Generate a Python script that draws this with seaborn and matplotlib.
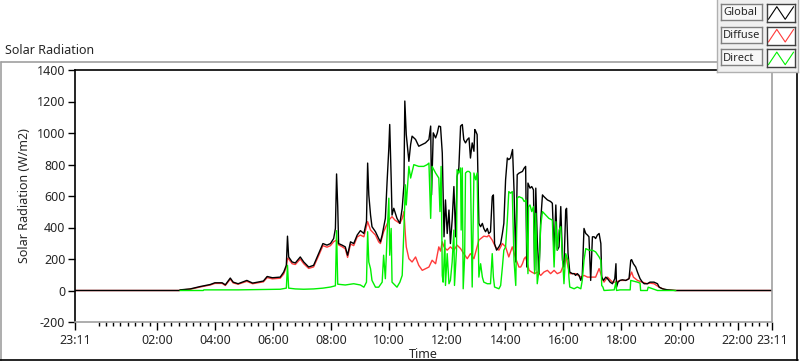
import numpy as np
import pandas as pd
import matplotlib
matplotlib.use("Agg")
import matplotlib.pyplot as plt
import seaborn as sns
from matplotlib.lines import Line2D

# time in decimal hours of day, chart runs 23:11 -> 23:11
T0, T1 = -49 / 60, 23 + 11 / 60

global_t = [T0, 2.78, 2.80, 3.15, 3.49, 3.84, 4.00, 4.25, 4.36, 4.53, 4.63, 4.80, 5.10, 5.30, 5.67, 5.80,
            5.98, 6.25, 6.37, 6.46, 6.50, 6.54, 6.66, 6.77, 6.94, 7.06, 7.23, 7.40, 7.57, 7.72, 7.86, 7.98,
            8.09, 8.15, 8.19, 8.23, 8.26, 8.38, 8.49, 8.57, 8.67, 8.78, 8.90, 9.01, 9.13, 9.22, 9.26, 9.30,
            9.36, 9.41, 9.53, 9.64, 9.70, 9.76, 9.87, 9.93, 9.99, 10.02, 10.07, 10.10, 10.16, 10.27, 10.37,
            10.45, 10.51, 10.54, 10.59, 10.68, 10.74, 10.79, 10.91, 11.02, 11.14, 11.25, 11.37, 11.43, 11.46,
            11.52, 11.60, 11.66, 11.71, 11.77, 11.83, 11.89, 11.94, 12.00, 12.06, 12.11, 12.17, 12.23, 12.29,
            12.34, 12.40, 12.46, 12.52, 12.57, 12.63, 12.69, 12.75, 12.80, 12.86, 12.92, 12.95, 12.98, 13.03,
            13.09, 13.15, 13.21, 13.26, 13.32, 13.38, 13.43, 13.49, 13.55, 13.59, 13.63, 13.70, 13.78, 13.84,
            13.90, 13.95, 14.01, 14.07, 14.12, 14.18, 14.25, 14.30, 14.36, 14.41, 14.47, 14.59, 14.65, 14.70,
            14.74, 14.78, 14.85, 14.91, 14.97, 15.01, 15.05, 15.10, 15.16, 15.22, 15.28, 15.33, 15.45, 15.56,
            15.62, 15.68, 15.74, 15.79, 15.85, 15.91, 15.97, 16.02, 16.08, 16.11, 16.16, 16.22, 16.31, 16.37,
            16.42, 16.48, 16.54, 16.60, 16.65, 16.71, 16.77, 16.83, 16.88, 16.94, 17.00, 17.06, 17.11, 17.17,
            17.23, 17.29, 17.32, 17.38, 17.46, 17.52, 17.61, 17.69, 17.77, 17.81, 17.83, 17.88, 17.95, 18.03,
            18.15, 18.26, 18.32, 18.35, 18.41, 18.49, 18.55, 18.64, 18.72, 18.78, 18.89, 18.98, 19.12, 19.24,
            19.30, 19.41, 19.59, 19.87, T1]
global_v = [0, 0, 4, 10, 25, 38, 49, 49, 36, 79, 53, 43, 64, 47, 60, 89,
            81, 85, 117, 160, 345, 213, 181, 175, 213, 181, 149, 160, 234, 298, 288, 298,
            330, 394, 740, 532, 298, 288, 277, 224, 309, 298, 352, 380, 362, 437, 809, 607,
            479, 405, 373, 330, 309, 352, 458, 692, 905, 1054, 714, 479, 522, 458, 426,
            522, 671, 1203, 990, 820, 927, 980, 959, 916, 927, 937, 959, 1044, 607,
            1001, 969, 1001, 1044, 1040, 873, 341, 575, 362, 511, 298, 447, 660, 341,
            724, 777, 1044, 1054, 958, 937, 958, 969, 841, 937, 884, 1022, 1012, 990,
            426, 405, 426, 394, 373, 394, 362, 373, 596, 607, 298, 256, 277, 298,
            362, 426, 703, 841, 831, 841, 895, 639, 181, 735, 745, 756, 777, 788,
            149, 682, 650, 660, 639, 128, 650, 320, 107, 447, 607, 596, 575, 565,
            554, 234, 543, 256, 277, 533, 192, 149, 511, 522, 234, 117, 107, 107,
            96, 107, 96, 64, 96, 394, 362, 352, 341, 64, 341, 341, 330, 352,
            362, 298, 85, 64, 85, 75, 53, 43, 75, 170, 21, 53, 64, 68,
            64, 75, 192, 196, 170, 149, 117, 75, 53, 43, 43, 53, 53, 43,
            21, 11, 4, 0, 0]

diffuse_t = [T0, 2.78, 2.80, 3.15, 3.49, 3.84, 4.00, 4.25, 4.36, 4.53, 4.63, 4.80, 5.10, 5.30, 5.67, 5.80,
             5.98, 6.25, 6.37, 6.46, 6.50, 6.54, 6.66, 6.77, 6.94, 7.06, 7.23, 7.40, 7.57, 7.72, 7.86, 7.98,
             8.09, 8.19, 8.26, 8.38, 8.49, 8.57, 8.67, 8.78, 8.90, 9.01, 9.13, 9.26, 9.36, 9.53, 9.64, 9.70,
             9.81, 9.99, 10.10, 10.20, 10.37, 10.45, 10.51, 10.56, 10.59, 10.68, 10.79, 10.91, 11.02, 11.14,
             11.25, 11.37, 11.48, 11.60, 11.71, 11.77, 11.83, 11.89, 11.94, 12.00, 12.11, 12.23, 12.34, 12.46,
             12.57, 12.69, 12.80, 12.92, 13.03, 13.09, 13.26, 13.38, 13.43, 13.55, 13.66, 13.78, 13.90, 14.01,
             14.12, 14.24, 14.36, 14.47, 14.53, 14.59, 14.65, 14.70, 14.76, 14.82, 14.91, 15.01, 15.10, 15.22,
             15.33, 15.45, 15.56, 15.68, 15.79, 15.91, 16.02, 16.08, 16.16, 16.22, 16.42, 16.60, 16.71, 16.83,
             16.94, 17.11, 17.23, 17.29, 17.34, 17.40, 17.52, 17.69, 17.81, 17.95, 18.15, 18.26, 18.35, 18.41,
             18.55, 18.72, 18.89, 18.98, 19.12, 19.30, 19.48, 19.87, T1]
diffuse_v = [0, 0, 3, 8, 22, 35, 45, 45, 32, 72, 48, 40, 58, 43, 55, 82,
             74, 78, 105, 150, 205, 200, 170, 165, 200, 170, 140, 150, 220, 285, 275, 285,
             310, 320, 290, 278, 265, 210, 295, 285, 340, 352, 341, 437, 384, 352, 309, 298,
             373, 447, 469, 447, 426, 458, 501, 352, 277, 202, 181, 213, 160, 128,
             138, 149, 192, 170, 277, 250, 309, 277, 266, 256, 277, 256, 288, 266,
             234, 202, 234, 202, 277, 320, 345, 341, 352, 320, 277, 256, 298, 277,
             213, 277, 202, 149, 149, 170, 202, 213, 170, 128, 117, 107, 117, 96,
             117, 128, 107, 128, 107, 117, 170, 224, 149, 107, 107, 85, 96, 85,
             85, 85, 139, 107, 75, 53, 85, 53, 53, 64, 64, 75, 117, 85,
             64, 53, 43, 47, 43, 21, 6, 0, 0]

direct_t = [2.80, 3.60, 3.62, 4.80, 5.50, 6.25, 6.46, 6.50, 6.54, 6.77, 7.06, 7.40, 7.72, 7.98, 8.15, 8.19,
            8.23, 8.49, 8.78, 9.01, 9.13, 9.22, 9.26, 9.30, 9.36, 9.41, 9.53, 9.64, 9.76, 9.81, 9.87, 9.93,
            9.99, 10.02, 10.07, 10.10, 10.27, 10.37, 10.45, 10.51, 10.56, 10.59, 10.68, 10.74, 10.85, 11.02,
            11.19, 11.31, 11.37, 11.43, 11.48, 11.60, 11.71, 11.75, 11.79, 11.83, 11.86, 11.92, 11.94, 12.00,
            12.06, 12.11, 12.17, 12.23, 12.25, 12.32, 12.34, 12.40, 12.46, 12.48, 12.52, 12.55, 12.60, 12.63,
            12.69, 12.75, 12.80, 12.86, 12.92, 12.98, 13.03, 13.09, 13.15, 13.21, 13.26, 13.38, 13.49, 13.55,
            13.59, 13.63, 13.78, 13.84, 13.90, 13.95, 14.01, 14.07, 14.12, 14.18, 14.24, 14.30, 14.36, 14.41,
            14.47, 14.59, 14.65, 14.72, 14.74, 14.78, 14.80, 14.85, 14.91, 14.97, 15.01, 15.05, 15.10, 15.16,
            15.22, 15.28, 15.39, 15.50, 15.62, 15.68, 15.74, 15.79, 15.85, 15.91, 15.97, 16.02, 16.08, 16.16,
            16.19, 16.22, 16.37, 16.48, 16.60, 16.65, 16.71, 16.77, 16.88, 17.00, 17.11, 17.23, 17.29, 17.32,
            17.36, 17.40, 17.75, 17.81, 17.83, 17.95, 18.30, 18.32, 18.55, 18.64, 18.66, 18.89, 18.92, 19.07,
            19.24, 19.87]
direct_v = [0, 0, 4, 4, 6, 8, 15, 160, 15, 10, 8, 10, 15, 22, 30, 380,
            40, 35, 43, 35, 21, 53, 373, 181, 138, 64, 21, 21, 53, 224, 75, 352,
            586, 224, 394, 53, 21, 53, 96, 394, 671, 543, 788, 714, 799, 788,
            788, 799, 809, 458, 788, 746, 714, 501, 788, 96, 53, 320, 32, 234,
            43, 64, 181, 384, 32, 256, 767, 746, 778, 384, 778, 11, 213, 746,
            756, 756, 746, 22, 746, 703, 746, 85, 170, 85, 53, 43, 43, 234,
            85, 22, 11, 32, 149, 256, 277, 447, 628, 618, 628, 192, 32, 586,
            596, 586, 565, 575, 320, 107, 533, 543, 501, 533, 107, 490, 43, 128,
            415, 501, 479, 458, 447, 149, 437, 256, 383, 405, 213, 43, 234, 192,
            85, 22, 11, 22, 11, 64, 192, 266, 256, 256, 245, 213, 192, 32,
            22, 0, 4, 53, 0, 4, 4, 64, 53, 47, 0, 0, 21, 11,
            0, 0]

series_names = ["Global", "Diffuse", "Direct"]
series_colors = ["#000000", "#ff3a3a", "#00f000"]
draw_order = ["Diffuse", "Global", "Direct"]

x_major = [T0, 2, 4, 6, 8, 10, 12, 14, 16, 18, 20, 22, T1]
x_labels = ["23:11", "02:00", "04:00", "06:00", "08:00", "10:00", "12:00",
            "14:00", "16:00", "18:00", "20:00", "22:00", "23:11"]
y_ticks = list(range(-200, 1401, 200))

df = pd.concat([
    pd.DataFrame({"time": global_t, "value": global_v, "series": "Global"}),
    pd.DataFrame({"time": diffuse_t, "value": diffuse_v, "series": "Diffuse"}),
    pd.DataFrame({"time": direct_t, "value": direct_v, "series": "Direct"}),
], ignore_index=True)

sns.set_theme(style="white")
plt.rcParams["font.family"] = ["Noto Sans", "DejaVu Sans"]

W, H = 800, 361
fig = plt.figure(figsize=(8, 3.61), dpi=100)
fig.patch.set_facecolor("white")
ax = fig.add_axes([75 / W, 1 - 322 / H, (772 - 75) / W, (322 - 70) / H])

sns.lineplot(data=df, x="time", y="value", hue="series", hue_order=draw_order,
             palette=dict(zip(series_names, series_colors)), estimator=None, sort=False,
             linewidth=1.0, legend=False, ax=ax)

ax.set_xlim(T0, T1)
ax.set_ylim(-200, 1400)
ax.set_yticks(y_ticks)
ax.set_yticklabels([str(v) for v in y_ticks], fontsize=9)
ax.set_xticks(x_major)
ax.set_xticklabels(x_labels, fontsize=9)
ax.set_xticks(np.arange(0, 23.2, 0.25), minor=True)
ax.tick_params(axis="x", which="major", direction="out", length=6, width=1, pad=3, bottom=True, color="black")
ax.tick_params(axis="x", which="minor", direction="out", length=3, width=1, bottom=True, color="black")
ax.tick_params(axis="y", which="major", direction="out", length=5, width=1, pad=2, left=True, color="black")
ax.set_xlabel("Time", fontsize=9, labelpad=0)
ax.set_ylabel("Solar Radiation (W/m2)", fontsize=9, labelpad=4)
ax.grid(False)
ax.set_facecolor("white")
for side, col in [("left", "black"), ("top", "black"), ("right", "#a0a0a0"), ("bottom", "#a0a0a0")]:
    ax.spines[side].set_visible(True)
    ax.spines[side].set_color(col)
    ax.spines[side].set_linewidth(1.2)

# outer panel frame
fig.add_artist(Line2D([0.5 / W, 718 / W], [1 - 62 / H, 1 - 62 / H], color="#a0a0a0", lw=1.2))
fig.add_artist(Line2D([0.5 / W, 0.5 / W], [0, 1 - 62 / H], color="#a0a0a0", lw=1.2))
fig.add_artist(Line2D([0, 798 / W], [0.6 / H, 0.6 / H], color="black", lw=1.2))
fig.add_artist(Line2D([797 / W, 797 / W], [0, 1 - 72 / H], color="black", lw=1.2))
fig.text(5 / W, 1 - 50 / H, "Solar Radiation", fontsize=9, va="center", ha="left")

# legend panel (LabVIEW style plot legend)
panel = fig.add_axes([717 / W, 1 - 72 / H, 81 / W, 72 / H], zorder=2)
panel.set_facecolor("#f0f0f0")
panel.set_xticks([]); panel.set_yticks([])
for s in panel.spines.values():
    s.set_color("#b0b0b0"); s.set_linewidth(1.0)
panel.spines["top"].set_visible(False)

ICON_X = [0.05, 0.35, 0.65, 0.95]
ICON_Y = [0.15, 0.85, 0.15, 0.85]
for i, (name, col) in enumerate(zip(series_names, series_colors)):
    top = 4 + i * 22.7
    lab = fig.add_axes([721 / W, 1 - (top + 16) / H, 41 / W, 16 / H], zorder=3)
    lab.set_facecolor("#f7f7f7")
    lab.set_xticks([]); lab.set_yticks([])
    for s in lab.spines.values():
        s.set_color("#808080"); s.set_linewidth(1.0)
    lab.text(0.05, 0.45, name, fontsize=8, va="center", ha="left", transform=lab.transAxes)
    sw = fig.add_axes([767 / W, 1 - (top + 18) / H, 28 / W, 18 / H], zorder=3)
    sw.set_facecolor("white")
    sw.set_xticks([]); sw.set_yticks([])
    sw.set_xlim(0, 1); sw.set_ylim(0, 1)
    for s in sw.spines.values():
        s.set_color("#404040"); s.set_linewidth(1.0)
    sw.plot(ICON_X, ICON_Y, color=col, lw=0.8)

fig.savefig("out.png", dpi=100, facecolor="white")
